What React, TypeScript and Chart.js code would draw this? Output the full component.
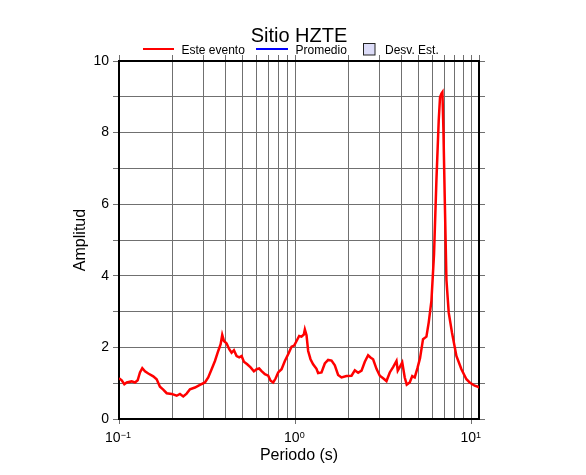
import React, { useEffect, useRef } from 'react';
import { Chart, registerables } from 'chart.js';

Chart.register(...registerables);

const FONT = "'Liberation Sans', Arial, Helvetica, sans-serif";

const titleText = 'Sitio HZTE';
const xAxisTitle = 'Periodo (s)';
const yAxisTitle = 'Amplitud';
const legendLabels = ['Este evento', 'Promedio', 'Desv. Est.'];

// Periods (s)
const periods = [
  0.1, 0.1036, 0.1072, 0.1106, 0.118, 0.1232, 0.1276, 0.1315, 0.1355, 0.1404,
  0.1466, 0.1564, 0.1635, 0.1707, 0.1782, 0.1864, 0.1989, 0.2123, 0.2216, 0.2314,
  0.2418, 0.2525, 0.2696, 0.2877, 0.3071, 0.3206, 0.3351, 0.35, 0.3653, 0.377,
  0.3849, 0.3936, 0.4076, 0.4217, 0.4351, 0.4485, 0.4645, 0.4805, 0.4958, 0.5108,
  0.5333, 0.5575, 0.582, 0.6029, 0.6237, 0.6436, 0.6719, 0.7015, 0.7238, 0.7487,
  0.7725, 0.7992, 0.8352, 0.8719, 0.9104, 0.9517, 0.9845, 1.016, 1.051, 1.084,
  1.117, 1.132, 1.157, 1.182, 1.219, 1.261, 1.318, 1.346, 1.407, 1.469,
  1.534, 1.604, 1.674, 1.748, 1.827, 1.95, 2.082, 2.174, 2.27, 2.373,
  2.477, 2.586, 2.668, 2.76, 2.885, 3.012, 3.145, 3.287, 3.431, 3.583,
  3.746, 3.808, 3.909, 4.038, 4.172, 4.282, 4.453, 4.601, 4.754, 4.924,
  5.094, 5.297, 5.537, 5.706, 5.91, 6.114, 6.31, 6.501, 6.613, 6.734,
  6.823, 6.913, 7.031, 7.189, 7.408, 7.733, 8.19, 8.744, 9.333, 9.743,
  10.4, 10.86, 10.96,
];

// Amplitude of "Este evento"
const amplitudes = [
  1.14, 1.08, 0.97, 1.02, 1.05, 1.02, 1.08, 1.3, 1.42, 1.33,
  1.27, 1.19, 1.11, 0.9, 0.82, 0.72, 0.7, 0.65, 0.7, 0.63,
  0.71, 0.83, 0.88, 0.95, 1.02, 1.16, 1.39, 1.62, 1.9, 2.09,
  2.35, 2.18, 2.11, 1.95, 1.85, 1.92, 1.76, 1.72, 1.76, 1.6,
  1.53, 1.44, 1.33, 1.39, 1.41, 1.34, 1.25, 1.21, 1.07, 1.02,
  1.13, 1.3, 1.39, 1.62, 1.81, 2.02, 2.05, 2.18, 2.32, 2.3,
  2.36, 2.5, 2.34, 1.9, 1.67, 1.53, 1.4, 1.28, 1.3, 1.55,
  1.65, 1.63, 1.5, 1.23, 1.16, 1.2, 1.21, 1.36, 1.29, 1.35,
  1.6, 1.78, 1.72, 1.67, 1.4, 1.21, 1.14, 1.06, 1.3, 1.45,
  1.62, 1.35, 1.45, 1.58, 1.16, 0.96, 1.02, 1.2, 1.16, 1.42,
  1.7, 2.23, 2.3, 2.7, 3.3, 4.6, 6.68, 8.34, 8.99, 9.09,
  9.13, 8.07, 6.21, 3.89, 2.97, 2.41, 1.76, 1.39, 1.11, 1.02,
  0.93, 0.9, 0.89,
];

const xMin = 0.1;
const xMax = 11;
const yMin = 0;
const yMax = 10;

const xGridValues = [
  0.1, 0.2, 0.3, 0.4, 0.5, 0.6, 0.7, 0.8, 0.9,
  1, 2, 3, 4, 5, 6, 7, 8, 9,
  10, 11,
];
const xLabelValues = [0.1, 1, 10];
const xLabelExponents = ['\u22121', '0', '1'];
const yLabelValues = [0, 2, 4, 6, 8, 10];

const GRID = '#707070';

const overlayPlugin = {
  id: 'overlay',
  afterDraw(chart: any) {
    const ctx = chart.ctx;
    const ca = chart.chartArea;
    ctx.save();
    ctx.fillStyle = '#000';
    ctx.textBaseline = 'alphabetic';

    // Title
    ctx.font = `20px ${FONT}`;
    ctx.textAlign = 'center';
    ctx.fillText(titleText, (ca.left + ca.right) / 2, 42);

    // Legend
    ctx.textAlign = 'left';
    ctx.font = `12px ${FONT}`;
    ctx.lineWidth = 2;
    ctx.strokeStyle = '#ff0000';
    ctx.beginPath();
    ctx.moveTo(143, 49);
    ctx.lineTo(174, 49);
    ctx.stroke();
    ctx.fillText(legendLabels[0], 181.5, 53.5);

    ctx.strokeStyle = '#0000ff';
    ctx.beginPath();
    ctx.moveTo(256, 49);
    ctx.lineTo(288, 49);
    ctx.stroke();
    ctx.fillText(legendLabels[1], 295.5, 53.5);

    ctx.fillStyle = '#dcdcf8';
    ctx.fillRect(363.5, 43.5, 11.5, 11.5);
    ctx.lineWidth = 1;
    ctx.strokeStyle = '#222';
    ctx.strokeRect(363.5, 43.5, 11.5, 11.5);
    ctx.fillStyle = '#000';
    ctx.fillText(legendLabels[2], 385, 53.5);

    // X tick labels with superscript exponents
    const xs = chart.scales.x;
    xLabelValues.forEach((v, i) => {
      const px = xs.getPixelForValue(v);
      ctx.font = `14px ${FONT}`;
      const w1 = ctx.measureText('10').width;
      ctx.font = `9px ${FONT}`;
      const w2 = ctx.measureText(xLabelExponents[i]).width;
      const start = px - (w1 + w2) / 2 - 1;
      ctx.font = `14px ${FONT}`;
      ctx.fillText('10', start, 441.5);
      ctx.font = `9px ${FONT}`;
      ctx.fillText(xLabelExponents[i], start + w1, 437.5);
    });

    ctx.restore();
  },
};

const setLogTicks = (scale: any) => {
  scale.ticks = xGridValues.map((v) => ({ value: v }));
};

export default function App() {
  const canvasRef = useRef<HTMLCanvasElement | null>(null);

  useEffect(() => {
    const canvas = canvasRef.current;
    if (!canvas) return;
    Chart.defaults.font.family = FONT;

    const chart = new Chart(canvas, {
      type: 'line',
      data: {
        datasets: [
          {
            label: legendLabels[0],
            data: periods.map((p, i) => ({ x: p, y: amplitudes[i] })),
            borderColor: '#ff0000',
            backgroundColor: '#ff0000',
            borderWidth: 2.5,
            pointRadius: 0,
            tension: 0,
            fill: false,
            xAxisID: 'x',
            yAxisID: 'y',
          },
        ],
      },
      options: {
        responsive: false,
        animation: false,
        events: [],
        layout: { padding: 0 },
        plugins: {
          legend: { display: false },
          title: { display: false },
          tooltip: { enabled: false },
        },
        scales: {
          x: {
            type: 'logarithmic',
            position: 'bottom',
            min: xMin,
            max: xMax,
            afterBuildTicks: setLogTicks,
            afterFit: (s: any) => {
              s.height = 56;
            },
            ticks: { display: false, autoSkip: false },
            grid: {
              color: GRID,
              lineWidth: 1,
              drawTicks: true,
              tickLength: 5,
              tickColor: (c: any) =>
                c.tick && xLabelValues.includes(c.tick.value) ? GRID : 'rgba(0,0,0,0)',
            },
            border: { display: true, color: '#000', width: 2 },
            title: {
              display: true,
              text: xAxisTitle,
              color: '#000',
              font: { size: 16, family: FONT },
              padding: { top: 0, bottom: 10 },
            },
          },
          x2: {
            type: 'logarithmic',
            position: 'top',
            display: true,
            min: xMin,
            max: xMax,
            afterBuildTicks: setLogTicks,
            afterFit: (s: any) => {
              s.height = 61;
            },
            ticks: { display: false },
            grid: {
              drawOnChartArea: false,
              color: GRID,
              tickColor: GRID,
              tickLength: 6,
            },
            border: { display: true, color: '#000', width: 2 },
          },
          y: {
            type: 'linear',
            position: 'left',
            min: yMin,
            max: yMax,
            afterFit: (s: any) => {
              s.width = 119;
            },
            ticks: {
              stepSize: 1,
              autoSkip: false,
              color: '#000',
              padding: 4,
              font: { size: 14, family: FONT },
              callback: (v: any) => (yLabelValues.includes(Number(v)) ? String(v) : ''),
            },
            grid: {
              color: GRID,
              lineWidth: 1,
              tickLength: 6,
              tickColor: GRID,
            },
            border: { display: true, color: '#000', width: 2 },
            title: {
              display: true,
              text: yAxisTitle,
              color: '#000',
              font: { size: 16, family: FONT },
              padding: { top: 71, bottom: 0 },
            },
          },
          y2: {
            type: 'linear',
            position: 'right',
            display: true,
            min: yMin,
            max: yMax,
            afterFit: (s: any) => {
              s.width = 107;
            },
            ticks: { display: false, stepSize: 1 },
            grid: {
              drawOnChartArea: false,
              color: GRID,
              tickColor: GRID,
              tickLength: 6,
            },
            border: { display: true, color: '#000', width: 2 },
          },
        },
      },
      plugins: [overlayPlugin],
    } as any);

    return () => {
      chart.destroy();
    };
  }, []);

  return (
    <div style={{ position: 'fixed', left: 0, top: 0, width: 586, height: 475, background: '#fff' }}>
      <canvas ref={canvasRef} width={586} height={475} style={{ display: 'block' }} />
    </div>
  );
}
